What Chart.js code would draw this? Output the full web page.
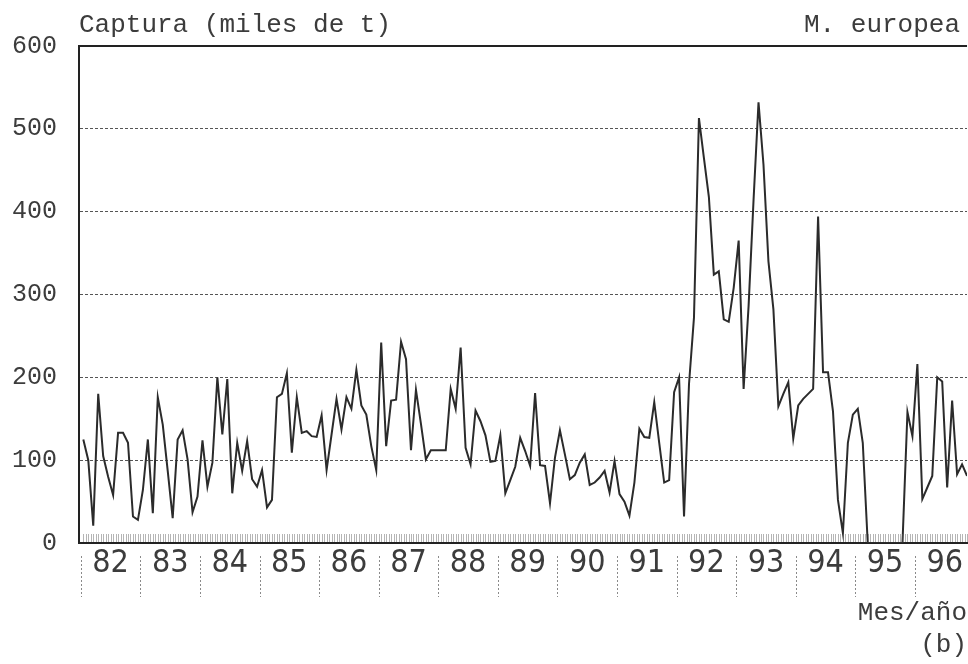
<!DOCTYPE html>
<html><head><meta charset="utf-8">
<script src="https://cdn.jsdelivr.net/npm/chart.js@4.4.0/dist/chart.umd.min.js"></script>
<style>html,body{margin:0;padding:0;background:#fff;}#wrap{width:968px;height:664px;position:relative;}</style>
</head><body><div id="wrap"><canvas id="c" width="968" height="664"></canvas></div>
<script>
// Monthly catch, Jan 1982 onward (thousands of t)
const yTitle = 'Captura (miles de t)';
const seriesName = 'M. europea';
const xTitle = 'Mes/año';
const panelTag = '(b)';
const yearLabels = ['82','83','84','85','86','87','88','89','90','91','92','93','94','95','96'];
const yTicks = [0,100,200,300,400,500,600];
const capture1982_1985 = [125,100,21,180,105,80,58,133,133,121,32,28,64,125,36,176,143,87,30,125,136,101,37,56,124,68,97,200,131,198,60,121,87,123,77,68,88,43,52,176,180,205,109,176];
const capture1985_1989 = [133,135,129,128,154,88,131,174,137,176,162,209,166,155,117,88,242,117,172,173,243,222,112,185,144,101,112,112,112,112,186,162,236,115,95,160,147,130,98,99,130,60];
const capture1989_1992 = [76,92,127,111,93,181,94,93,48,103,136,107,77,82,97,107,70,73,79,87,61,99,59,50,33,73,138,128,127,170,121,73,76,182,200,32];
const capture1992_1995 = [192,272,513,465,418,324,328,270,267,308,365,186,286,414,532,457,340,282,165,180,194,126,166,174,180,186,394,206,206,159,52,12,121,155,162,121,0];
const capture1995_1996 = [0,0,0,0,0,0,0,158,129,216,53,67,81,200,195,67,172,83,95,81];
const capture = [].concat(capture1982_1985, capture1985_1989, capture1989_1992, capture1992_1995, capture1995_1996);

const monoFont = "'Liberation Mono','Courier New',monospace";
const narrowFont = "'Liberation Sans Narrow','DejaVu Sans Condensed','Arial Narrow',sans-serif";
const textColor = '#3c3c3c';

const decor = {
  id: 'decor',
  afterDraw(chart) {
    const {ctx, chartArea: a, scales: {x}} = chart;
    ctx.save();
    // small monthly ticks inside the frame
    ctx.strokeStyle = 'rgba(90,90,90,0.45)';
    ctx.lineWidth = 1;
    ctx.beginPath();
    for (let v = 0; v <= x.max; v += 0.5) {
      const px = Math.round(x.getPixelForValue(v)) + 0.5;
      if (px < a.left + 2) continue;
      ctx.moveTo(px, a.bottom - 1);
      ctx.lineTo(px, a.bottom - 9);
    }
    ctx.stroke();
    // year separators
    ctx.strokeStyle = '#8a8a8a';
    ctx.setLineDash([2, 2]);
    ctx.beginPath();
    yearLabels.forEach((_, k) => {
      const px = Math.round(x.getPixelForValue(12 * k - 0.5)) + 0.5;
      ctx.moveTo(px, a.bottom + 13);
      ctx.lineTo(px, a.bottom + 54);
    });
    ctx.stroke();
    ctx.setLineDash([]);
    // texts
    ctx.fillStyle = textColor;
    ctx.font = '26px ' + monoFont;
    ctx.textBaseline = 'alphabetic';
    ctx.textAlign = 'left';
    ctx.fillText(yTitle, a.left, 32);
    ctx.textAlign = 'right';
    ctx.fillText(seriesName, a.right - 7, 32);
    ctx.fillText(panelTag, a.right, 652);
    ctx.restore();
  }
};

new Chart(document.getElementById('c'), {
  type: 'line',
  data: {
    datasets: [{
      data: capture.map((v, i) => ({x: i, y: v})),
      borderColor: '#2b2b2b',
      borderWidth: 2,
      pointRadius: 0,
      tension: 0,
      fill: false
    }]
  },
  options: {
    responsive: false,
    animation: false,
    layout: {padding: {top: 46, left: 0, right: 0, bottom: 0}},
    plugins: {legend: {display: false}, tooltip: {enabled: false}, title: {display: false}},
    scales: {
      x: {
        type: 'linear',
        min: -0.87,
        max: capture.length - 1,
        afterBuildTicks: s => { s.ticks = yearLabels.map((_, k) => ({value: 12 * k + 5.5})); },
        afterFit: s => { s.height = 121; },
        ticks: {
          autoSkip: false, maxRotation: 0, padding: 5, color: textColor,
          font: {family: narrowFont, size: 32, lineHeight: 1},
          callback: (v, i) => yearLabels[i]
        },
        grid: {display: false, drawTicks: false},
        border: {display: true, color: '#222', width: 2},
        title: {
          display: true, text: xTitle, align: 'end', color: textColor,
          font: {family: monoFont, size: 26, lineHeight: 1.2},
          padding: {top: 0, bottom: 35}
        }
      },
      y: {
        min: 0, max: 600,
        afterBuildTicks: s => { s.ticks = yTicks.map(v => ({value: v})); },
        afterFit: s => { s.width = 79; },
        ticks: {padding: 22, color: textColor, font: {family: monoFont, size: 25}},
        grid: {
          drawTicks: false,
          color: c => (c.tick && c.tick.value === 600) ? '#222' : '#555',
          lineWidth: c => (c.tick && c.tick.value === 600) ? 2 : 1
        },
        border: {display: true, color: '#222', width: 2,
          dash: c => (c.tick && c.tick.value === 600) ? [] : [3, 2]}
      }
    }
  },
  plugins: [decor]
});
</script>
</body></html>
